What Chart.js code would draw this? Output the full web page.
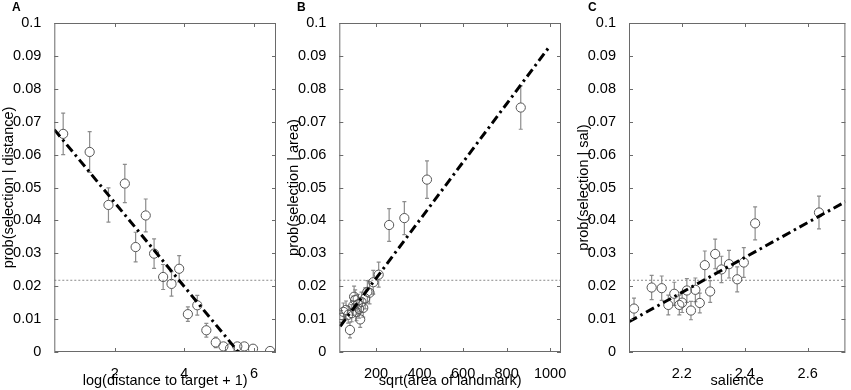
<!DOCTYPE html>
<html>
<head>
<meta charset="utf-8">
<script src="https://cdn.jsdelivr.net/npm/chart.js@4.4.1/dist/chart.umd.min.js"></script>
<style>
  body { margin: 0; background: #fff; }
  #wrap { position: relative; width: 851px; height: 390px; overflow: hidden; }
  #wrap canvas { position: absolute; left: 0; top: 0; }
  .lbl { position: absolute; font: bold 12px "Liberation Sans", Arial, sans-serif; color: #000; }
</style>
</head>
<body>
<div id="wrap">
  <canvas id="chartA" width="851" height="390"></canvas>
  <canvas id="chartB" width="851" height="390"></canvas>
  <canvas id="chartC" width="851" height="390"></canvas>
  <div class="lbl" style="left:12px;top:0px">A</div>
  <div class="lbl" style="left:297px;top:0px">B</div>
  <div class="lbl" style="left:588px;top:0px">C</div>
</div>
<script>
// --- datos ---
const yTicks = [0, 0.01, 0.02, 0.03, 0.04, 0.05, 0.06, 0.07, 0.08, 0.09, 0.1];
const chanceLevel = 0.0218;

// A: distancia
const aX = [0.52, 1.28, 1.82, 2.29, 2.6, 2.89, 3.13, 3.39, 3.63, 3.85, 4.1, 4.37, 4.63, 4.9, 5.12, 5.31, 5.52, 5.72, 5.97, 6.46];
const aY = [0.0663, 0.0608, 0.0447, 0.0512, 0.0319, 0.0415, 0.0299, 0.0228, 0.0207, 0.0253, 0.0115, 0.0142, 0.0066, 0.0029, 0.0017, 0.0011, 0.0017, 0.0017, 0.0010, 0.0003];
const aErr = [0.0063, 0.0062, 0.0052, 0.0058, 0.0045, 0.005, 0.0045, 0.0038, 0.0037, 0.004, 0.0022, 0.003, 0.0021, 0.0016, 0.001, 0.0009, 0.0009, 0.0009, 0.0007, 0.0004];
const aFitX = [0.265, 5.55];
const aFitY = [0.0676, 0];
const aXTicks = [2, 4, 6];

// B: área
const bX = [39, 50, 62, 72, 80, 88, 95, 99, 104, 110, 116, 122, 127, 133, 141, 150, 160, 170, 187, 212, 260, 330, 434, 865];
const bY = [0.0104, 0.0122, 0.0128, 0.0113, 0.0067, 0.0118, 0.0141, 0.0168, 0.0158, 0.0121, 0.0145, 0.0131, 0.0099, 0.0152, 0.0134, 0.0163, 0.0183, 0.0180, 0.0212, 0.0235, 0.0386, 0.0407, 0.0524, 0.0743];
const bErr = [0.0022, 0.0027, 0.0027, 0.0025, 0.0024, 0.0026, 0.0029, 0.0032, 0.0031, 0.0026, 0.003, 0.0028, 0.0024, 0.003, 0.0028, 0.0032, 0.0034, 0.0034, 0.0036, 0.0038, 0.005, 0.005, 0.0057, 0.0066];
const bFitX = [35, 1000];
const bFitY = [0.0078, 0.0931];
const bXTicks = [200, 400, 600, 800, 1000];

// C: saliencia
const cX = [2.048, 2.104, 2.136, 2.157, 2.176, 2.192, 2.201, 2.216, 2.229, 2.243, 2.257, 2.273, 2.290, 2.306, 2.326, 2.350, 2.376, 2.397, 2.433, 2.636];
const cY = [0.0132, 0.0196, 0.0194, 0.0143, 0.0177, 0.0143, 0.0150, 0.0187, 0.0126, 0.0189, 0.0149, 0.0264, 0.0184, 0.0298, 0.0251, 0.0267, 0.0221, 0.0272, 0.0391, 0.0424];
const cErr = [0.0032, 0.0037, 0.0037, 0.003, 0.0035, 0.003, 0.003, 0.0036, 0.0028, 0.0036, 0.003, 0.0043, 0.0033, 0.0045, 0.004, 0.0042, 0.0038, 0.0045, 0.005, 0.005];
const cFitX = [2.032, 2.72];
const cFitY = [0.0092, 0.0457];
const cXTicks = [2.2, 2.4, 2.6];

const FONT = '"Liberation Sans", Arial, Helvetica, sans-serif';
const R = 4.6;

// barras de error, marco y marcas hacia dentro (estilo MATLAB)
const matlabFrame = {
    id: 'matlabFrame',
    beforeDatasetsDraw(chart) {
        const ctx = chart.ctx, xs = chart.scales.x, ys = chart.scales.y;
        const ds = chart.data.datasets[0];
        const a = chart.chartArea;
        ctx.save();
        ctx.beginPath();
        ctx.rect(a.left, a.top, a.right - a.left, a.bottom - a.top);
        ctx.clip();
        ctx.strokeStyle = '#8c8c8c';
        ctx.lineWidth = 1.2;
        ds.data.forEach((p, i) => {
            const e = ds.err[i];
            const px = xs.getPixelForValue(p.x);
            const py = ys.getPixelForValue(p.y);
            const top = ys.getPixelForValue(p.y + e);
            const bot = ys.getPixelForValue(p.y - e);
            ctx.beginPath();
            if (top < py - R) { ctx.moveTo(px, py - R); ctx.lineTo(px, top); ctx.moveTo(px - 2, top); ctx.lineTo(px + 2, top); }
            if (bot > py + R) { ctx.moveTo(px, py + R); ctx.lineTo(px, bot); ctx.moveTo(px - 2, bot); ctx.lineTo(px + 2, bot); }
            ctx.stroke();
        });
        ctx.restore();
    },
    afterDatasetsDraw(chart) {
        const ctx = chart.ctx, xs = chart.scales.x, ys = chart.scales.y;
        const a = chart.chartArea;
        ctx.save();
        ctx.strokeStyle = '#6a6a6a';
        ctx.lineWidth = 1;
        ctx.strokeRect(a.left + 0.5, a.top + 0.5, a.right - a.left - 1, a.bottom - a.top - 1);
        ctx.beginPath();
        xs.ticks.forEach(t => {
            const px = Math.round(xs.getPixelForValue(t.value)) + 0.5;
            ctx.moveTo(px, a.bottom); ctx.lineTo(px, a.bottom - 4);
            ctx.moveTo(px, a.top); ctx.lineTo(px, a.top + 4);
        });
        ys.ticks.forEach(t => {
            const py = Math.round(ys.getPixelForValue(t.value)) + 0.5;
            ctx.moveTo(a.left, py); ctx.lineTo(a.left + 4, py);
            ctx.moveTo(a.right, py); ctx.lineTo(a.right - 4, py);
        });
        ctx.stroke();
        ctx.restore();
    }
};

function makePanel(id, opt) {
    const pts = opt.x.map((v, i) => ({ x: v, y: opt.y[i] }));
    const fit = opt.fitX.map((v, i) => ({ x: v, y: opt.fitY[i] }));
    const chance = [{ x: opt.min, y: chanceLevel }, { x: opt.max, y: chanceLevel }];

    return new Chart(document.getElementById(id), {
        type: 'scatter',
        data: {
            datasets: [
                {
                    data: pts,
                    err: opt.err,
                    pointStyle: 'circle',
                    pointRadius: R,
                    borderColor: '#555',
                    backgroundColor: 'rgba(0,0,0,0)',
                    borderWidth: 1,
                    order: 1
                },
                {
                    type: 'line',
                    data: fit,
                    borderColor: '#000',
                    borderWidth: 3,
                    borderDash: [9, 4, 2.5, 4],
                    pointRadius: 0,
                    fill: false,
                    order: 0
                },
                {
                    type: 'line',
                    data: chance,
                    borderColor: '#8a8a8a',
                    borderWidth: 1,
                    borderDash: [2, 2],
                    pointRadius: 0,
                    fill: false,
                    order: 2
                }
            ]
        },
        options: {
            responsive: false,
            animation: false,
            events: [],
            layout: { padding: { left: opt.padLeft, right: opt.padRight, top: 23, bottom: 0 } },
            plugins: { legend: { display: false }, tooltip: { enabled: false } },
            scales: {
                x: {
                    type: 'linear',
                    min: opt.min,
                    max: opt.max,
                    grid: { display: false },
                    border: { display: false },
                    afterBuildTicks: s => { s.ticks = opt.ticks.map(v => ({ value: v })); },
                    afterFit: s => { s.height = 38; },
                    ticks: {
                        color: '#000',
                        padding: 5,
                        maxRotation: 0,
                        font: { family: FONT, size: 14.5 },
                        callback: v => String(+v.toFixed(2))
                    },
                    title: {
                        display: true,
                        text: opt.xTitle,
                        color: '#000',
                        padding: { top: 0, bottom: 0 },
                        font: { family: FONT, size: 14.5 }
                    }
                },
                y: {
                    min: 0,
                    max: 0.1,
                    grid: { display: false },
                    border: { display: false },
                    afterBuildTicks: s => { s.ticks = yTicks.map(v => ({ value: v })); },
                    afterFit: s => { s.width = opt.yWidth; },
                    ticks: {
                        color: '#000',
                        padding: 5,
                        font: { family: FONT, size: 14.5 },
                        callback: v => v === 0 ? '0' : String(+v.toFixed(2))
                    },
                    title: {
                        display: true,
                        text: opt.yTitle,
                        color: '#000',
                        padding: { top: 0, bottom: 0 },
                        font: { family: FONT, size: 14.5 }
                    }
                }
            }
        },
        plugins: [matlabFrame]
    });
}

makePanel('chartA', {
    x: aX, y: aY, err: aErr, fitX: aFitX, fitY: aFitY, ticks: aXTicks,
    min: 0.265, max: 6.63,
    padLeft: 0, yWidth: 54.3, padRight: 851 - 276,
    xTitle: 'log(distance to target + 1)', yTitle: 'prob(selection | distance)'
});

makePanel('chartB', {
    x: bX, y: bY, err: bErr, fitX: bFitX, fitY: bFitY, ticks: bXTicks,
    min: 31, max: 1050,
    padLeft: 284.8, yWidth: 54.5, padRight: 851 - 561,
    xTitle: 'sqrt(area of landmark)', yTitle: 'prob(selection | area)'
});

makePanel('chartC', {
    x: cX, y: cY, err: cErr, fitX: cFitX, fitY: cFitY, ticks: cXTicks,
    min: 2.032, max: 2.72,
    padLeft: 574.8, yWidth: 54.2, padRight: 1.5,
    xTitle: 'salience', yTitle: 'prob(selection | sal)'
});
</script>
</body>
</html>
